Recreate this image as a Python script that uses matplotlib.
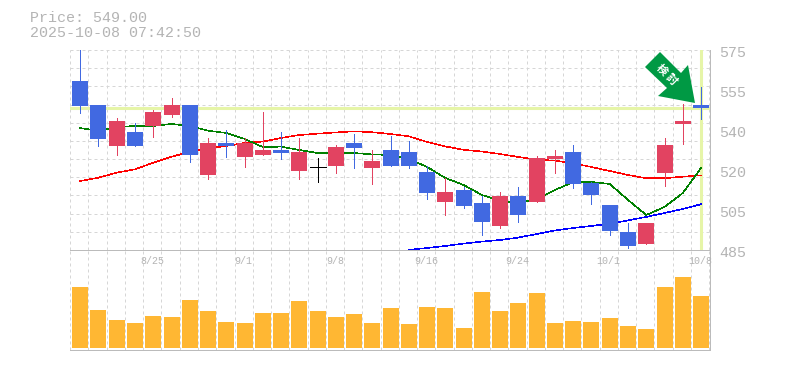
import numpy as np
import matplotlib
matplotlib.use("Agg")
import matplotlib.pyplot as plt
from matplotlib.patches import Polygon

price_title = "Price: 549.00"
time_title = "2025-10-08 07:42:50"
last_price = 549.0

opens = [561.05, 550.25, 531.8, 538.1, 540.8, 545.75, 550.25, 518.75, 533.15, 526.85,
         527.75, 530.0, 520.55, 522.2, 522.8, 533.15, 521.9, 530.0, 529.1, 520.1,
         506.6, 512.0, 506.15, 495.8, 509.3, 506.6, 526.0, 529.1, 515.15, 505.25,
         493.1, 487.7, 519.65, 541.7, 550.1]
closes = [549.8, 534.95, 543.05, 531.8, 547.1, 550.25, 527.75, 533.15, 531.8, 533.15,
          530.0, 528.65, 529.1, 522.2, 531.35, 530.9, 525.05, 522.8, 522.8, 510.65,
          511.1, 504.8, 497.6, 509.3, 500.75, 526.4, 527.3, 514.7, 509.75, 493.55,
          486.8, 497.15, 532.25, 543.05, 548.9]
highs = [580.0, 550.25, 544.4, 542.15, 548.0, 553.4, 550.25, 535.4, 539.0, 535.4,
         547.1, 538.1, 535.4, 526.4, 532.25, 537.2, 530.0, 536.3, 534.05, 522.8,
         517.4, 513.35, 509.3, 511.1, 513.35, 527.3, 530.0, 532.25, 515.6, 505.25,
         497.15, 497.15, 535.4, 550.7, 558.35]
lows = [546.8, 531.8, 527.75, 531.8, 535.85, 544.85, 524.6, 517.0, 526.85, 522.35,
        527.75, 526.0, 517.0, 515.6, 519.65, 521.9, 514.7, 522.8, 521.9, 507.95,
        500.75, 503.9, 491.75, 494.9, 497.6, 506.6, 519.65, 512.9, 505.7, 491.75,
        485.9, 487.7, 513.8, 532.7, 543.95]

ma_short = [539.9, 538.55, 540.35, 540.8, 540.8, 541.7, 540.8, 538.7, 537.65, 535.0,
            531.35, 531.5, 530.0, 528.65, 528.65, 528.65, 528.0, 527.75, 526.0, 522.35,
            517.4, 514.25, 509.75, 507.2, 506.15, 507.95, 512.0, 515.6, 515.6, 514.7,
            507.5, 500.75, 504.35, 510.65, 521.9]
ma_mid = [516.05, 517.55, 519.8, 521.3, 524.3, 527.0, 529.1, 530.8, 531.8, 533.15,
          533.8, 535.4, 536.75, 537.35, 537.9, 538.4, 538.0, 537.2, 536.15, 533.6,
          531.6, 530.1, 529.3, 528.2, 526.85, 525.7, 525.2, 524.0, 522.35, 520.55,
          518.75, 517.3, 517.3, 518.0, 518.6]
# long average only starts at the 19th day
ma_long = [485.1, 485.9, 486.8, 487.9, 488.8, 489.5, 490.6, 492.2, 493.8, 494.9,
           495.8, 496.9, 498.3, 499.9, 501.65, 503.45, 505.6]

volumes = [61.3, 38.3, 28.3, 25.3, 32.3, 31.3, 48.3, 37.3, 26.3, 25.3,
           35.3, 35.3, 47.3, 37.3, 31.3, 34.3, 25.3, 40.3, 24.3, 41.3,
           40.3, 20.3, 56.3, 37.3, 45.3, 55.3, 25.3, 27.3, 26.3, 30.3,
           22.3, 19.3, 61.3, 71.3, 52.3]

date_pos = [4, 9, 14, 19, 24, 29, 34]
date_labels = ["8/25", "9/1", "9/8", "9/16", "9/24", "10/1", "10/8"]
price_ticks = [575, 557, 539, 521, 503, 485]
price_labels = ["575", "555", "540", "520", "505", "485"]

UP = "#e24361"
DOWN = "#4169e1"
DOJI = "#000000"
VOL = "#ffb733"
GRID = "#d6d6d6"
EDGE = "#bbbbbb"
TEXT = "#b4b4b4"
HILITE = "#e6f5a8"
ARROW = "#009944"
MONO = "Liberation Mono"
THIN = 0.72  # one pixel at dpi 100

W, H = 785, 370
fig = plt.figure(figsize=(W / 100, H / 100), dpi=100)


def px_axes(left, top, right, bottom):
    return fig.add_axes([left / W, 1 - bottom / H, (right - left) / W, (bottom - top) / H])


vax = px_axes(70, 250, 710, 350)
ax = px_axes(70, 50, 710, 250)

days = np.arange(len(opens))
xlim = (-0.56, 34.49)
grid_x = np.arange(36) - 0.55

for a in (ax, vax):
    a.set_xlim(*xlim)
    a.set_xticks(grid_x)
    a.tick_params(length=0, labelbottom=False, labelleft=False)
    a.grid(True, axis="x", color=GRID, lw=THIN, ls=(0, (3, 3)))
    a.set_axisbelow(True)
    for s in a.spines.values():
        s.set_visible(False)
    a.spines["right"].set_visible(True)
    a.spines["bottom"].set_visible(True)
    a.spines["right"].set_color(EDGE)
    a.spines["bottom"].set_color(EDGE)
    a.spines["right"].set_linewidth(THIN)
    a.spines["bottom"].set_linewidth(THIN)

# price panel
ax.set_ylim(485, 575)
ax.set_yticks(np.linspace(485, 575, 12))
ax.grid(True, axis="y", color=GRID, lw=THIN, ls=(0, (3, 3)))

ax.axhline(last_price, color=HILITE, lw=2.2, zorder=1.5)
ax.axvline(days[-1], ymin=0.005, color=HILITE, lw=2.2, zorder=1.5)

ax.plot(days, ma_mid, color="#ff0000", lw=0.4, antialiased=False, zorder=2)
ax.plot(days, ma_short, color="#008000", lw=0.4, antialiased=False, zorder=2)
ax.plot(days[-len(ma_long):], ma_long, color="#0000ff", lw=0.4, antialiased=False, zorder=2)

for i in days:
    o, c = opens[i], closes[i]
    col = DOJI if o == c else (UP if c > o else DOWN)
    ax.vlines(i, lows[i], highs[i], color=col, lw=THIN, antialiased=False, zorder=3)
    if o == c:
        ax.hlines(o, i - 0.44, i + 0.44, color=col, lw=THIN, antialiased=False, zorder=3)
    else:
        ax.bar(i, abs(c - o), bottom=min(o, c), width=0.876, color=col, lw=0, zorder=3)

# volume panel
vax.set_ylim(-1.7, 98.3)
vax.bar(days, volumes, width=0.876, color=VOL, lw=0, zorder=3)

# axis labels, placed by hand like the original
for pos, lab in zip(date_pos, date_labels):
    ax.annotate(lab, (pos, 485), xytext=(-1, -11), textcoords="offset pixels",
                ha="center", va="center", color=TEXT, family=MONO, fontsize=7.2,
                annotation_clip=False)
for val, lab in zip(price_ticks, price_labels):
    ax.annotate(lab, (34.49, val), xytext=(9, -3), textcoords="offset pixels",
                ha="left", va="center", color=TEXT, family=MONO, fontsize=10.8,
                annotation_clip=False)

fig.text(30 / W, 1 - 18 / H, price_title, color=TEXT, family=MONO, fontsize=10.8, va="center")
fig.text(30 / W, 1 - 33 / H, time_title, color=TEXT, family=MONO, fontsize=10.8, va="center")

# green arrow badge
arrow_px = [(660, 52), (645, 67), (667, 88), (658, 96), (695, 103), (688, 65), (681, 73)]
arrow_xy = [(x / W, 1 - y / H) for x, y in arrow_px]
fig.add_artist(Polygon(arrow_xy, closed=True, transform=fig.transFigure, fc=ARROW, ec="none", zorder=5))
fig.text(667 / W, 1 - 75 / H, "検 討", color="white", family=["Noto Sans CJK JP", "DejaVu Sans"],
         fontweight="bold", fontsize=8, rotation=-45, rotation_mode="anchor",
         ha="center", va="center", zorder=6)

fig.savefig("out.png", dpi=100)
